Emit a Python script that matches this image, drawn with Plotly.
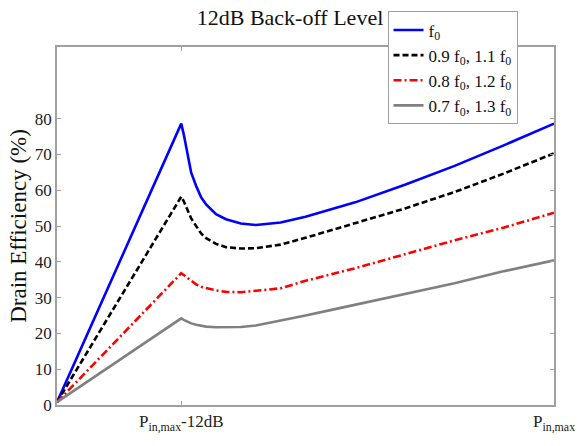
import plotly.graph_objects as go

# normalized input amplitude (0 .. 1, 0.25 = Pin,max - 12 dB)
amp = [0, 0.25, 0.255, 0.26, 0.265, 0.27, 0.28, 0.29, 0.30, 0.32, 0.34, 0.37, 0.40,
       0.45, 0.50, 0.55, 0.60, 0.70, 0.80, 0.90, 1.0]

eff_f0 = [0.8, 78.6, 75.6, 72.2, 68.1, 64.9, 61.2, 58.0, 56.0, 53.3, 51.9, 50.7, 50.3,
          51.0, 52.6, 54.5, 56.6, 61.5, 66.8, 72.6, 78.6]
eff_09_11 = [0.8, 58.2, 56.9, 55.5, 53.7, 52.1, 49.8, 47.9, 46.6, 45.0, 44.1, 43.7, 43.8,
             44.8, 46.7, 48.7, 50.7, 54.9, 59.5, 64.7, 70.3]
eff_08_12 = [0.8, 36.8, 36.3, 35.8, 35.2, 34.6, 33.7, 33.0, 32.6, 32.0, 31.6, 31.5, 31.9,
             32.6, 34.7, 36.4, 38.2, 42.1, 46.0, 49.6, 53.7]
eff_07_13 = [0.8, 24.2, 23.8, 23.4, 23.1, 22.8, 22.4, 22.1, 21.9, 21.7, 21.7, 21.8, 22.2,
             23.5, 25.0, 26.5, 28.0, 30.8, 34.0, 37.4, 40.4]

names = ["f<sub>0</sub>",
         "0.9 f<sub>0</sub>, 1.1 f<sub>0</sub>",
         "0.8 f<sub>0</sub>, 1.2 f<sub>0</sub>",
         "0.7 f<sub>0</sub>, 1.3 f<sub>0</sub>"]

x_tickvals = [0.25, 1.0]
x_ticktext = ["P<sub>in,max</sub>-12dB", "P<sub>in,max</sub>"]
y_tickvals = [0, 10, 20, 30, 40, 50, 60, 70, 80]

styles = [
    dict(color="#0000ff", width=2.6, dash="solid"),
    dict(color="#000000", width=2.6, dash="6px,3px"),
    dict(color="#ff0000", width=2.6, dash="8px,3px,2px,3px"),
    dict(color="#808080", width=2.6, dash="solid"),
]

fig = go.Figure()
for i, (ys, nm, st) in enumerate(zip([eff_f0, eff_09_11, eff_08_12, eff_07_13], names, styles)):
    fig.add_trace(go.Scatter(x=amp, y=ys, mode="lines", name=nm, line=st,
                             legendgroup=f"g{i}"))

serif = "Liberation Serif, Times New Roman, serif"
axis_common = dict(
    showline=True, linecolor="#a0a0a0", linewidth=1.5, mirror="ticks",
    ticks="inside", ticklen=4, tickcolor="#a0a0a0", showgrid=False, zeroline=False,
    tickfont=dict(family=serif, size=17, color="#222"),
)

fig.update_layout(
    width=587, height=446,
    margin=dict(l=57, r=26, t=37, b=36),
    paper_bgcolor="white", plot_bgcolor="white",
    font=dict(family=serif, size=17, color="#111"),
    title=dict(text="12dB Back-off Level", x=290 / 587, xanchor="center",
               y=1 - 17 / 446, yanchor="middle",
               font=dict(family=serif, size=22, color="#111")),
    xaxis=dict(range=[0, 1], tickvals=x_tickvals, ticktext=x_ticktext, **axis_common),
    yaxis=dict(range=[0, 100], tickvals=y_tickvals,
               title=dict(text="Drain Efficiency (%)", standoff=2,
                          font=dict(family=serif, size=23, color="#111")),
               **axis_common),
    legend=dict(x=(524 - 57) / 504, y=(410 - 0) / 373, xanchor="right", yanchor="top",
                bgcolor="white", bordercolor="#a0a0a0", borderwidth=1,
                font=dict(family=serif, size=17, color="#111"),
                itemwidth=30, tracegroupgap=4, traceorder="normal"),
    showlegend=True,
)

fig.write_html("out.html")
